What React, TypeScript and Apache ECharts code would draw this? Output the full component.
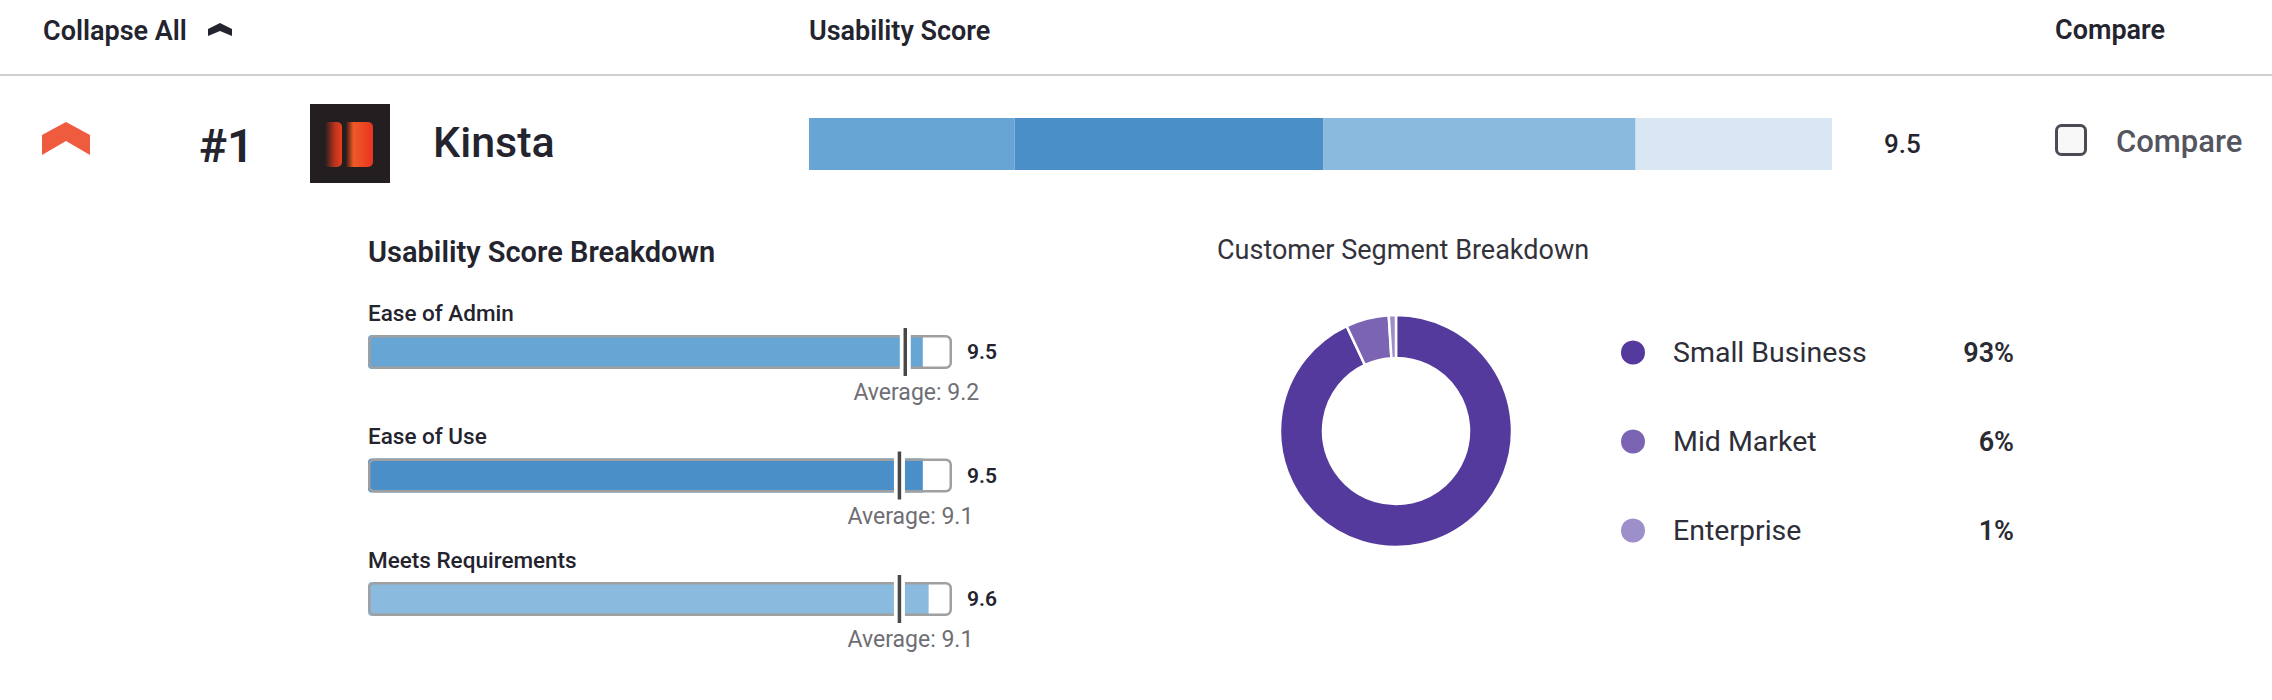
import React, { useEffect, useRef } from "react";
import * as echarts from "echarts";

// ---------- data ----------
const headerLabels = ["Collapse All", "Usability Score", "Compare"];
const productRank = "#1";
const productName = "Kinsta";
const compareLabel = "Compare";

const overallSegments = ["Ease of Admin", "Ease of Use", "Meets Requirements", "Remaining"];
const overallSegmentValues = [20.1, 30.2, 30.5, 19.2];
const overallSegmentColors = ["#67A5D5", "#4A8FC8", "#8BBADF", "#D9E7F4"];
const overallScore = 9.5;

const breakdownTitle = "Usability Score Breakdown";
const breakdownCategories = ["Ease of Admin", "Ease of Use", "Meets Requirements"];
const breakdownScores = [9.5, 9.5, 9.6];
const breakdownAverages = [9.2, 9.1, 9.1];
const breakdownColors = ["#67A5D5", "#4A8FC8", "#8BBADF"];

const segmentTitle = "Customer Segment Breakdown";
const segmentNames = ["Small Business", "Mid Market", "Enterprise"];
const segmentShares = [93, 6, 1];
const segmentColors = ["#533A9C", "#7B64B3", "#9D8FCA"];

const FONT = "Roboto, 'Noto Sans', sans-serif";
const DARK = "#24242F";

function txt(text: string, x: number, y: number, size: number, weight: number | string, fill: string, align = "left") {
  return {
    type: "text",
    silent: true,
    style: {
      text,
      x,
      y,
      fill,
      fontSize: size,
      fontWeight: weight,
      fontFamily: FONT,
      align,
      verticalAlign: "middle",
    },
  };
}

export default function App() {
  const ref = useRef<HTMLDivElement>(null);

  useEffect(() => {
    if (!ref.current) return;
    const chart = echarts.init(ref.current, undefined, { renderer: "svg" });

    const topSeries = overallSegments.map((name, i) => ({
      name,
      type: "bar",
      stack: "total",
      xAxisIndex: 0,
      yAxisIndex: 0,
      barWidth: 52,
      data: [overallSegmentValues[i]],
      itemStyle: { color: overallSegmentColors[i] },
      silent: true,
      label:
        i === overallSegments.length - 1
          ? {
              show: true,
              position: "right",
              distance: 52,
              formatter: () => overallScore.toFixed(1),
              fontSize: 26,
              fontWeight: 500,
              fontFamily: FONT,
              color: DARK,
            }
          : { show: false },
    }));

    const option: any = {
      animation: false,
      backgroundColor: "#ffffff",
      grid: [
        { left: 809, top: 118, width: 1023, height: 52 },
        { left: 368, top: 290.25, width: 584, height: 370.5 },
      ],
      xAxis: [
        { type: "value", gridIndex: 0, min: 0, max: 100, show: false },
        { type: "value", gridIndex: 1, min: 0, max: 10, show: false },
      ],
      yAxis: [
        { type: "category", gridIndex: 0, data: [productName], show: false },
        { type: "category", gridIndex: 1, data: breakdownCategories, inverse: true, show: false },
      ],
      legend: {
        orient: "vertical",
        left: 1614,
        top: 333,
        icon: "circle",
        itemWidth: 26,
        itemHeight: 26,
        itemGap: 60,
        selectedMode: false,
        data: segmentNames,
        formatter: (name: string) => {
          const i = segmentNames.indexOf(name);
          return `{n|${name}}{p|${segmentShares[i]}%}`;
        },
        textStyle: {
          fontFamily: FONT,
          rich: {
            n: { fontSize: 28.5, color: "#2E2E38", fontFamily: FONT, width: 300, padding: [0, 0, 0, 22], lineHeight: 26 },
            p: { fontSize: 27, color: "#2A2A33", fontFamily: FONT, fontWeight: 600, width: 41, align: "right", lineHeight: 26 },
          },
        },
      },
      series: [
        ...topSeries,
        {
          name: "track",
          type: "bar",
          xAxisIndex: 1,
          yAxisIndex: 1,
          barWidth: 34,
          barGap: "-100%",
          z: 1,
          silent: true,
          data: breakdownCategories.map(() => 10),
          itemStyle: { color: "#ffffff", borderRadius: 5 },
          label: {
            show: true,
            position: [0, -34],
            formatter: (p: any) => p.name,
            fontSize: 22.5,
            fontWeight: 500,
            fontFamily: FONT,
            color: DARK,
          },
        },
        {
          name: "score",
          type: "bar",
          xAxisIndex: 1,
          yAxisIndex: 1,
          barWidth: 34,
          barGap: "-100%",
          z: 2,
          silent: true,
          data: breakdownScores.map((v, i) => ({ value: v, itemStyle: { color: breakdownColors[i] } })),
          itemStyle: { borderRadius: [4, 0, 0, 4] },
        },
        {
          name: "frame",
          type: "bar",
          xAxisIndex: 1,
          yAxisIndex: 1,
          barWidth: 34,
          barGap: "-100%",
          z: 3,
          silent: true,
          data: breakdownCategories.map(() => 10),
          itemStyle: { color: "rgba(0,0,0,0)", borderColor: "#A0A0A0", borderWidth: 2.5, borderRadius: 5 },
          label: {
            show: true,
            position: "right",
            distance: 15,
            formatter: (p: any) => breakdownScores[p.dataIndex].toFixed(1),
            fontSize: 21,
            fontWeight: 600,
            fontFamily: FONT,
            color: DARK,
          },
        },
        {
          name: "averageGap",
          type: "scatter",
          xAxisIndex: 1,
          yAxisIndex: 1,
          z: 4,
          silent: true,
          symbol: "rect",
          symbolSize: [11, 40],
          data: breakdownAverages.map((v, i) => [v, i]),
          itemStyle: { color: "#ffffff", opacity: 1 },
        },
        {
          name: "average",
          type: "scatter",
          xAxisIndex: 1,
          yAxisIndex: 1,
          z: 5,
          silent: true,
          symbol: "rect",
          symbolSize: [3.5, 48],
          data: breakdownAverages.map((v, i) => [v, i]),
          itemStyle: { color: "#484848", opacity: 1 },
          label: {
            show: true,
            position: "bottom",
            distance: 5,
            offset: [11, 0],
            formatter: (p: any) => `Average: ${breakdownAverages[p.dataIndex].toFixed(1)}`,
            fontSize: 23,
            fontWeight: 400,
            fontFamily: FONT,
            color: "#6E6E74",
          },
        },
        {
          name: "Customer Segment",
          type: "pie",
          center: [1396, 431],
          radius: [73, 116],
          startAngle: 90,
          clockwise: true,
          silent: true,
          label: { show: false },
          labelLine: { show: false },
          itemStyle: { borderColor: "#ffffff", borderWidth: 2.5 },
          data: segmentNames.map((name, i) => ({
            name,
            value: segmentShares[i],
            itemStyle: { color: segmentColors[i] },
          })),
        },
      ],
      graphic: [
        txt(headerLabels[0], 43, 31, 27, 600, DARK),
        {
          type: "polygon",
          silent: true,
          shape: { points: [[220, 23], [232, 29], [232, 36], [220, 31], [208, 36], [208, 29]] },
          style: { fill: DARK },
        },
        txt(headerLabels[1], 809, 31, 27, 600, DARK),
        txt(headerLabels[2], 2055, 30, 27, 600, DARK),
        {
          type: "line",
          silent: true,
          shape: { x1: 0, y1: 75, x2: 2272, y2: 75 },
          style: { stroke: "#CFCFCF", lineWidth: 2 },
        },
        {
          type: "polygon",
          silent: true,
          shape: { points: [[66, 122], [90, 135], [90, 155], [66, 141], [42, 155], [42, 135]] },
          style: { fill: "#EF5B3E" },
        },
        txt(productRank, 199, 145, 47, 600, DARK),
        {
          type: "rect",
          silent: true,
          shape: { x: 310, y: 104, width: 80, height: 79 },
          style: { fill: "#231F20" },
        },
        {
          type: "rect",
          silent: true,
          shape: { x: 325, y: 122, width: 17, height: 45, r: [0, 5, 5, 0] },
          style: {
            fill: new echarts.graphic.LinearGradient(0, 0, 1, 0, [
              { offset: 0, color: "#231F20" },
              { offset: 0.55, color: "#B8321C" },
              { offset: 1, color: "#E8401F" },
            ]),
          },
        },
        {
          type: "rect",
          silent: true,
          shape: { x: 346, y: 122, width: 27, height: 45, r: [0, 5, 5, 0] },
          style: {
            fill: new echarts.graphic.LinearGradient(0, 0, 1, 0, [
              { offset: 0, color: "#3A1A14" },
              { offset: 0.28, color: "#F05A28" },
              { offset: 1, color: "#E83420" },
            ]),
          },
        },
        txt(productName, 433, 142, 43, 500, DARK),
        {
          type: "rect",
          silent: true,
          shape: { x: 2056.5, y: 125.5, width: 29, height: 29, r: 5 },
          style: { fill: "#F8F8F8", stroke: "#4B4B55", lineWidth: 3 },
        },
        txt(compareLabel, 2116, 141, 31, 500, "#55555F"),
        txt(breakdownTitle, 368, 252, 29, 600, DARK),
        txt(segmentTitle, 1217, 249.5, 27, 400, "#33333B"),
      ],
    };

    chart.setOption(option);
    return () => chart.dispose();
  }, []);

  return (
    <div
      ref={ref}
      style={{ position: "absolute", left: 0, top: 0, width: 2272, height: 700, background: "#fff" }}
    />
  );
}
